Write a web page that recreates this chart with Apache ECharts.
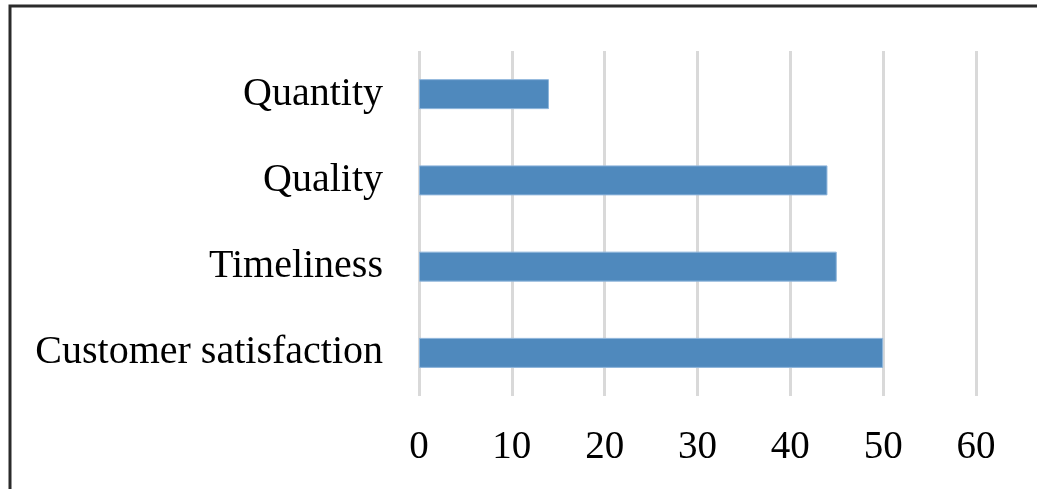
<!DOCTYPE html>
<html>
<head>
<meta charset="utf-8">
<style>
  html, body { margin: 0; padding: 0; background: #fff; }
  #chart { width: 1037px; height: 489px; }
</style>
<script src="https://cdn.jsdelivr.net/npm/echarts@6/dist/echarts.min.js"></script>
</head>
<body>
<div id="chart"></div>
<script>
// categories bottom -> top (category axis starts at the bottom)
const categories = ['Customer satisfaction', 'Timeliness', 'Quality', 'Quantity']
const values = [50, 45, 44, 14]
const xTicks = [0, 10, 20, 30, 40, 50, 60]

const myChart = echarts.init(document.getElementById('chart'))

myChart.setOption({
  animation: false,
  textStyle: { fontFamily: '"Liberation Serif", "Times New Roman", serif' },
  grid: {
    left: 419,
    right: 61,
    top: 51,
    bottom: 93
  },
  // frame lines at top and left of the picture
  graphic: [
    {
      type: 'polyline',
      shape: { points: [[10, 489], [10, 6], [1037, 6]] },
      style: { stroke: '#2b2b2b', lineWidth: 3, fill: null }
    }
  ],
  xAxis: {
    type: 'value',
    min: xTicks[0],
    max: xTicks[xTicks.length - 1],
    interval: 10,
    axisLine: { show: false },
    axisTick: { show: false },
    axisLabel: {
      color: '#000',
      fontSize: 39,
      margin: 32,
      fontFamily: '"Liberation Serif", serif'
    },
    splitLine: {
      show: true,
      lineStyle: { color: '#d9d9d9', width: 3 }
    }
  },
  yAxis: {
    type: 'category',
    data: categories,
    axisLine: { show: false },
    axisTick: { show: false },
    axisLabel: {
      color: '#000',
      fontSize: 40,
      margin: 36,
      padding: [6, 0, 0, 0],
      fontFamily: '"Liberation Serif", serif'
    }
  },
  series: [
    {
      type: 'bar',
      data: values,
      barWidth: 30,
      itemStyle: {
        color: '#4f89bd',
        borderColor: '#8fb6dc',
        borderWidth: 1
      }
    }
  ]
})

window.addEventListener('resize', () => {
  myChart.resize()
})
</script>
</body>
</html>
